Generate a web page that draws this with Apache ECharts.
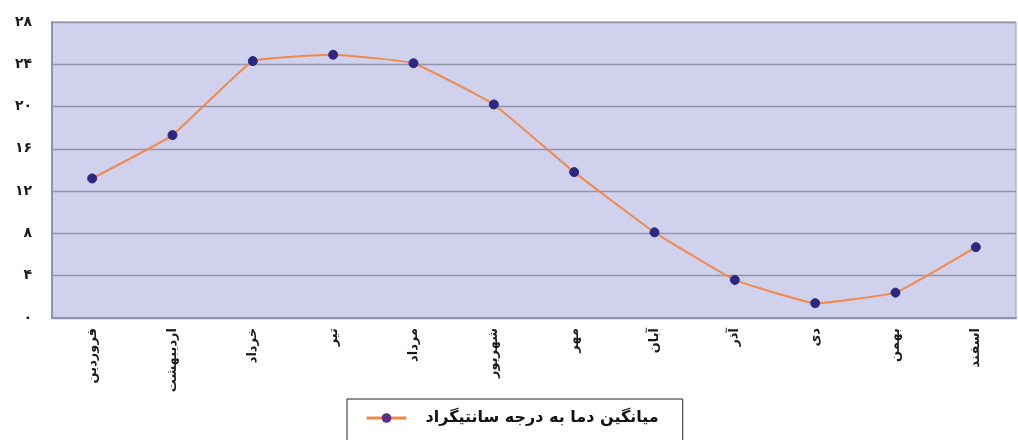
<!DOCTYPE html>
<html><head><meta charset="utf-8">
<script src="https://cdn.jsdelivr.net/npm/echarts@6/dist/echarts.min.js"></script>
<style>html,body{margin:0;padding:0;background:#fff}#c{width:1018px;height:440px}</style>
</head><body><div id="c"></div>
<script>
const months = ['فروردین','اردیبهشت','خرداد','تیر','مرداد','شهریور','مهر','آبان','آذر','دی','بهمن','اسفند'];
const temps = [13.2, 17.3, 24.3, 24.9, 24.1, 20.2, 13.8, 8.1, 3.6, 1.4, 2.4, 6.7];
const yTicks = [0, 4, 8, 12, 16, 20, 24, 28];
const yTickLabels = ['۰','۴','۸','۱۲','۱۶','۲۰','۲۴','۲۸'];
const seriesName = 'میانگین دما به درجه سانتیگراد';

const chart = echarts.init(document.getElementById('c'));
chart.setOption({
  animation: false,
  textStyle: { fontFamily: 'DejaVu Sans' },
  grid: { left: 52, right: 2, top: 22, bottom: 122, show: true, backgroundColor: '#d0d1ec', borderColor: '#9c9ec0', borderWidth: 1 },
  xAxis: {
    type: 'category', data: months, boundaryGap: true,
    axisLine: { lineStyle: { color: '#8f91b0', width: 2 } },
    axisTick: { show: false },
    axisLabel: { rotate: 90, color: '#1a1a1a', fontWeight: 'bold', fontSize: 13, margin: 10, interval: 0 }
  },
  yAxis: {
    type: 'value', min: 0, max: 28, interval: 4,
    axisLine: { show: true, lineStyle: { color: '#8f91b0', width: 2 } },
    axisTick: { show: false },
    splitLine: { lineStyle: { color: '#9395ad', width: 1.3 } },
    axisLabel: { color: '#1a1a1a', fontWeight: 'bold', fontSize: 14, margin: 20,
      formatter: v => yTickLabels[yTicks.indexOf(v)] }
  },
  legend: {
    data: [{ name: seriesName, itemStyle: { color: '#5a2d84' }, lineStyle: { width: 3 } }], left: 347, top: 399,
    backgroundColor: '#fff', borderColor: '#222', borderWidth: 1,
    padding: [11, 24, 16, 18], itemWidth: 40, itemHeight: 12, itemGap: 10,
    textStyle: { fontWeight: 'bold', fontSize: 16, color: '#111', padding: [0, 0, 0, 14] }
  },
  series: [{
    name: seriesName, type: 'line', data: temps, smooth: 0.1,
    symbol: 'circle', symbolSize: 9,
    lineStyle: { color: '#f0894a', width: 2 },
    itemStyle: { color: '#2c2882', borderColor: '#2c2882' }
  }]
});
</script></body></html>
